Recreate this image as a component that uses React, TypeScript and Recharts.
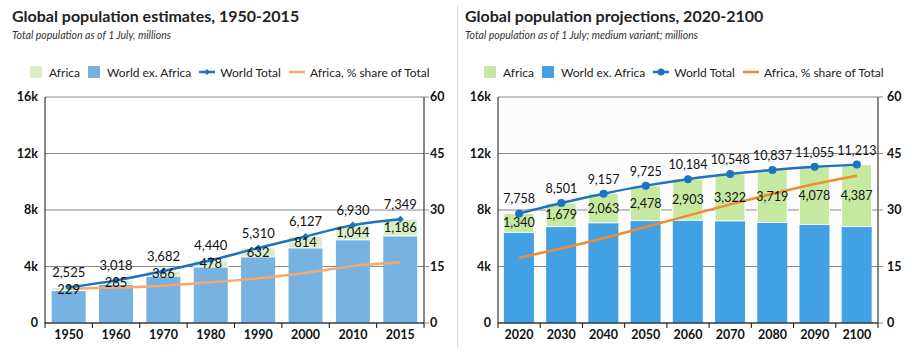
import React from 'react';
import { ComposedChart, Bar, Line, XAxis, YAxis, CartesianGrid, LabelList } from 'recharts';

// estimates 1950-2015
const estYears = ['1950', '1960', '1970', '1980', '1990', '2000', '2010', '2015'];
const estAfrica = [229, 285, 366, 478, 632, 814, 1044, 1186];
const estWorldExAfrica = [2296, 2733, 3316, 3962, 4678, 5313, 5886, 6163];
const estWorldTotal = [2525, 3018, 3682, 4440, 5310, 6127, 6930, 7349];
const estAfricaShare = [9.1, 9.4, 9.9, 10.8, 11.9, 13.3, 15.1, 16.1];

// projections 2020-2100
const projYears = ['2020', '2030', '2040', '2050', '2060', '2070', '2080', '2090', '2100'];
const projAfrica = [1340, 1679, 2063, 2478, 2903, 3322, 3719, 4078, 4387];
const projWorldExAfrica = [6418, 6822, 7094, 7247, 7281, 7226, 7118, 6977, 6826];
const projWorldTotal = [7758, 8501, 9157, 9725, 10184, 10548, 10837, 11055, 11213];
const projAfricaShare = [17.3, 19.8, 22.5, 25.5, 28.5, 31.5, 34.3, 36.9, 39.1];

const leftTicks = [0, 4000, 8000, 12000, 16000];
const rightTicks = [0, 15, 30, 45, 60];

const FONT = 'Lato, "Noto Sans", sans-serif';
const fmt = (v: number) => v.toLocaleString('en-US');
const fmtK = (v: number) => (v === 0 ? '0' : `${v / 1000}k`);

function buildRows(years: string[], africa: number[], exAfrica: number[], total: number[], share: number[]) {
  return years.map((year, i) => ({
    year,
    africa: africa[i],
    exAfrica: exAfrica[i],
    total: total[i],
    share: share[i],
  }));
}

const XTick = (props: any) => {
  const { x, y, payload, index, visibleTicksCount, width } = props;
  const half = payload.offset || width / visibleTicksCount / 2;
  const last = index === visibleTicksCount - 1;
  return (
    <g>
      <line x1={x - half} x2={x - half} y1={y} y2={y + 5} stroke="#111" />
      {last && <line x1={x + half} x2={x + half} y1={y} y2={y + 5} stroke="#111" />}
      <text x={x} y={y + 16} textAnchor="middle" fontSize={12.5} fontWeight={700} fill="#111" fontFamily={FONT}>
        {payload.value}
      </text>
    </g>
  );
};

const DiamondDot = (props: any) => {
  const { cx, cy, stroke } = props;
  if (cx == null || cy == null) return null;
  const s = 3.5;
  return <polygon points={`${cx},${cy - s} ${cx + s},${cy} ${cx},${cy + s} ${cx - s},${cy}`} fill={stroke} />;
};

const totalLabel = (dy: number, size: number) => (p: any) => (
  <text x={p.x} y={p.y - dy} textAnchor="middle" fontSize={size} fill="#111" fontFamily={FONT}>
    {fmt(p.value)}
  </text>
);

const africaLabel = (size: number) => (p: any) => (
  <text
    x={p.x + p.width / 2}
    y={p.y + p.height / 2 + size * 0.36}
    textAnchor="middle"
    fontSize={size}
    fill="#111"
    fontFamily={FONT}
  >
    {fmt(p.value)}
  </text>
);

interface LegendProps {
  left: number;
  green: string;
  blue: string;
  line: string;
  orange: string;
  round: boolean;
}

function ChartLegend({ left, green, blue, line, orange, round }: LegendProps) {
  const text = { fontSize: 12, color: '#222', fontFamily: FONT, marginRight: 8, whiteSpace: 'nowrap' as const };
  const sq = (c: string) => (
    <span style={{ display: 'inline-block', width: 12, height: 12, background: c, marginRight: 7 }} />
  );
  const ln = (c: string, marker: boolean) => (
    <svg width={16} height={12} style={{ marginRight: 5 }}>
      <line x1={0} x2={16} y1={6} y2={6} stroke={c} strokeWidth={2.5} />
      {marker &&
        (round ? (
          <circle cx={8} cy={6} r={3.5} fill={c} />
        ) : (
          <polygon points="8,3 11,6 8,9 5,6" fill={c} />
        ))}
    </svg>
  );
  return (
    <div style={{ position: 'absolute', left, top: 64, display: 'flex', alignItems: 'center', height: 16 }}>
      {sq(green)}
      <span style={text}>Africa</span>
      {sq(blue)}
      <span style={text}>World ex. Africa</span>
      {ln(line, true)}
      <span style={text}>World Total</span>
      {ln(orange, false)}
      <span style={text}>Africa, % share of Total</span>
    </div>
  );
}

interface PanelProps {
  left: number;
  width: number;
  title: string;
  subtitle: string;
  rows: any[];
  leftAxisWidth: number;
  rightAxisWidth: number;
  green: string;
  blue: string;
  line: string;
  orange: string;
  round: boolean;
  legendLeft: number;
  labelSize: number;
  bg?: string;
  rightTickMargin: number;
}

function Panel(p: PanelProps) {
  return (
    <div style={{ position: 'absolute', left: p.left, top: 0, width: p.width, height: 353 }}>
      <div
        style={{
          position: 'absolute',
          left: p.left === 0 ? 12 : 5,
          top: 6,
          fontSize: 16,
          fontWeight: 700,
          color: '#222',
          fontFamily: FONT,
          whiteSpace: 'nowrap',
        }}
      >
        {p.title}
      </div>
      <div
        style={{
          position: 'absolute',
          left: p.left === 0 ? 12 : 5,
          top: 29,
          fontSize: 10.5,
          fontStyle: 'italic',
          color: '#333',
          fontFamily: FONT,
          whiteSpace: 'nowrap',
        }}
      >
        {p.subtitle}
      </div>
      <ChartLegend
        left={p.legendLeft}
        green={p.green}
        blue={p.blue}
        line={p.line}
        orange={p.orange}
        round={p.round}
      />
      <div style={{ position: 'absolute', left: 0, top: 0 }}>
        <ComposedChart
          width={p.width}
          height={353}
          data={p.rows}
          margin={{ top: 97, right: 0, bottom: 0, left: 0 }}
          barCategoryGap="14%"
        >
          <CartesianGrid vertical={false} stroke="#8a8a8a" fill={p.bg || 'none'} yAxisId="left" />
          <XAxis
            dataKey="year"
            height={30}
            axisLine={{ stroke: '#111' }}
            tickLine={false}
            tickSize={0}
            tickMargin={0}
            tick={<XTick />}
            interval={0}
          />
          <YAxis
            yAxisId="left"
            width={p.leftAxisWidth}
            domain={[0, 16000]}
            ticks={leftTicks}
            tickFormatter={fmtK}
            axisLine={{ stroke: '#111' }}
            tickLine={false}
            tickSize={0}
            tickMargin={7}
            tick={{ fontSize: 12.5, fontWeight: 700, fill: '#111', fontFamily: FONT }}
          />
          <YAxis
            yAxisId="right"
            orientation="right"
            width={p.rightAxisWidth}
            domain={[0, 60]}
            ticks={rightTicks}
            axisLine={{ stroke: '#111' }}
            tickLine={{ stroke: '#8a8a8a' }}
            tickSize={5}
            tickMargin={p.rightTickMargin}
            tick={{ fontSize: 12.5, fontWeight: 700, fill: '#111', fontFamily: FONT }}
          />
          <Bar yAxisId="left" dataKey="exAfrica" stackId="a" fill={p.blue} isAnimationActive={false} />
          <Bar
            yAxisId="left"
            dataKey="africa"
            stackId="a"
            fill={p.green}
            stroke="#fff"
            strokeWidth={1}
            isAnimationActive={false}
          >
            <LabelList dataKey="africa" content={africaLabel(p.labelSize)} />
          </Bar>
          <Line
            yAxisId="right"
            dataKey="share"
            type="monotone"
            stroke={p.orange}
            strokeWidth={2.5}
            dot={false}
            isAnimationActive={false}
          />
          <Line
            yAxisId="left"
            dataKey="total"
            type="monotone"
            stroke={p.line}
            strokeWidth={2.5}
            dot={p.round ? { r: 4, fill: p.line, stroke: p.line, strokeWidth: 0 } : <DiamondDot />}
            isAnimationActive={false}
          >
            <LabelList dataKey="total" content={totalLabel(10, p.labelSize)} />
          </Line>
        </ComposedChart>
      </div>
    </div>
  );
}

export default function App() {
  const estRows = buildRows(estYears, estAfrica, estWorldExAfrica, estWorldTotal, estAfricaShare);
  const projRows = buildRows(projYears, projAfrica, projWorldExAfrica, projWorldTotal, projAfricaShare);
  return (
    <div style={{ position: 'absolute', left: 0, top: 0, width: 922, height: 353, background: '#fff', overflow: 'hidden' }}>
      <Panel
        left={0}
        width={460}
        title="Global population estimates, 1950-2015"
        subtitle="Total population as of 1 July, millions"
        rows={estRows}
        leftAxisWidth={45}
        rightAxisWidth={36}
        green="#daeec6"
        blue="#76b2e2"
        line="#1b73c2"
        orange="#f9a86a"
        round={false}
        legendLeft={30}
        labelSize={13}
        rightTickMargin={1}
      />
      <div style={{ position: 'absolute', left: 457, top: 5, width: 1, height: 343, background: '#dcdcdc' }} />
      <Panel
        left={460}
        width={462}
        title="Global population projections, 2020-2100"
        subtitle="Total population as of 1 July; medium variant; millions"
        rows={projRows}
        leftAxisWidth={38}
        rightAxisWidth={44}
        green="#c6e9a1"
        blue="#42a0e4"
        line="#1b73c2"
        orange="#f28a30"
        round={true}
        legendLeft={24}
        labelSize={12.5}
        bg="#fcfcfc"
        rightTickMargin={4}
      />
    </div>
  );
}
